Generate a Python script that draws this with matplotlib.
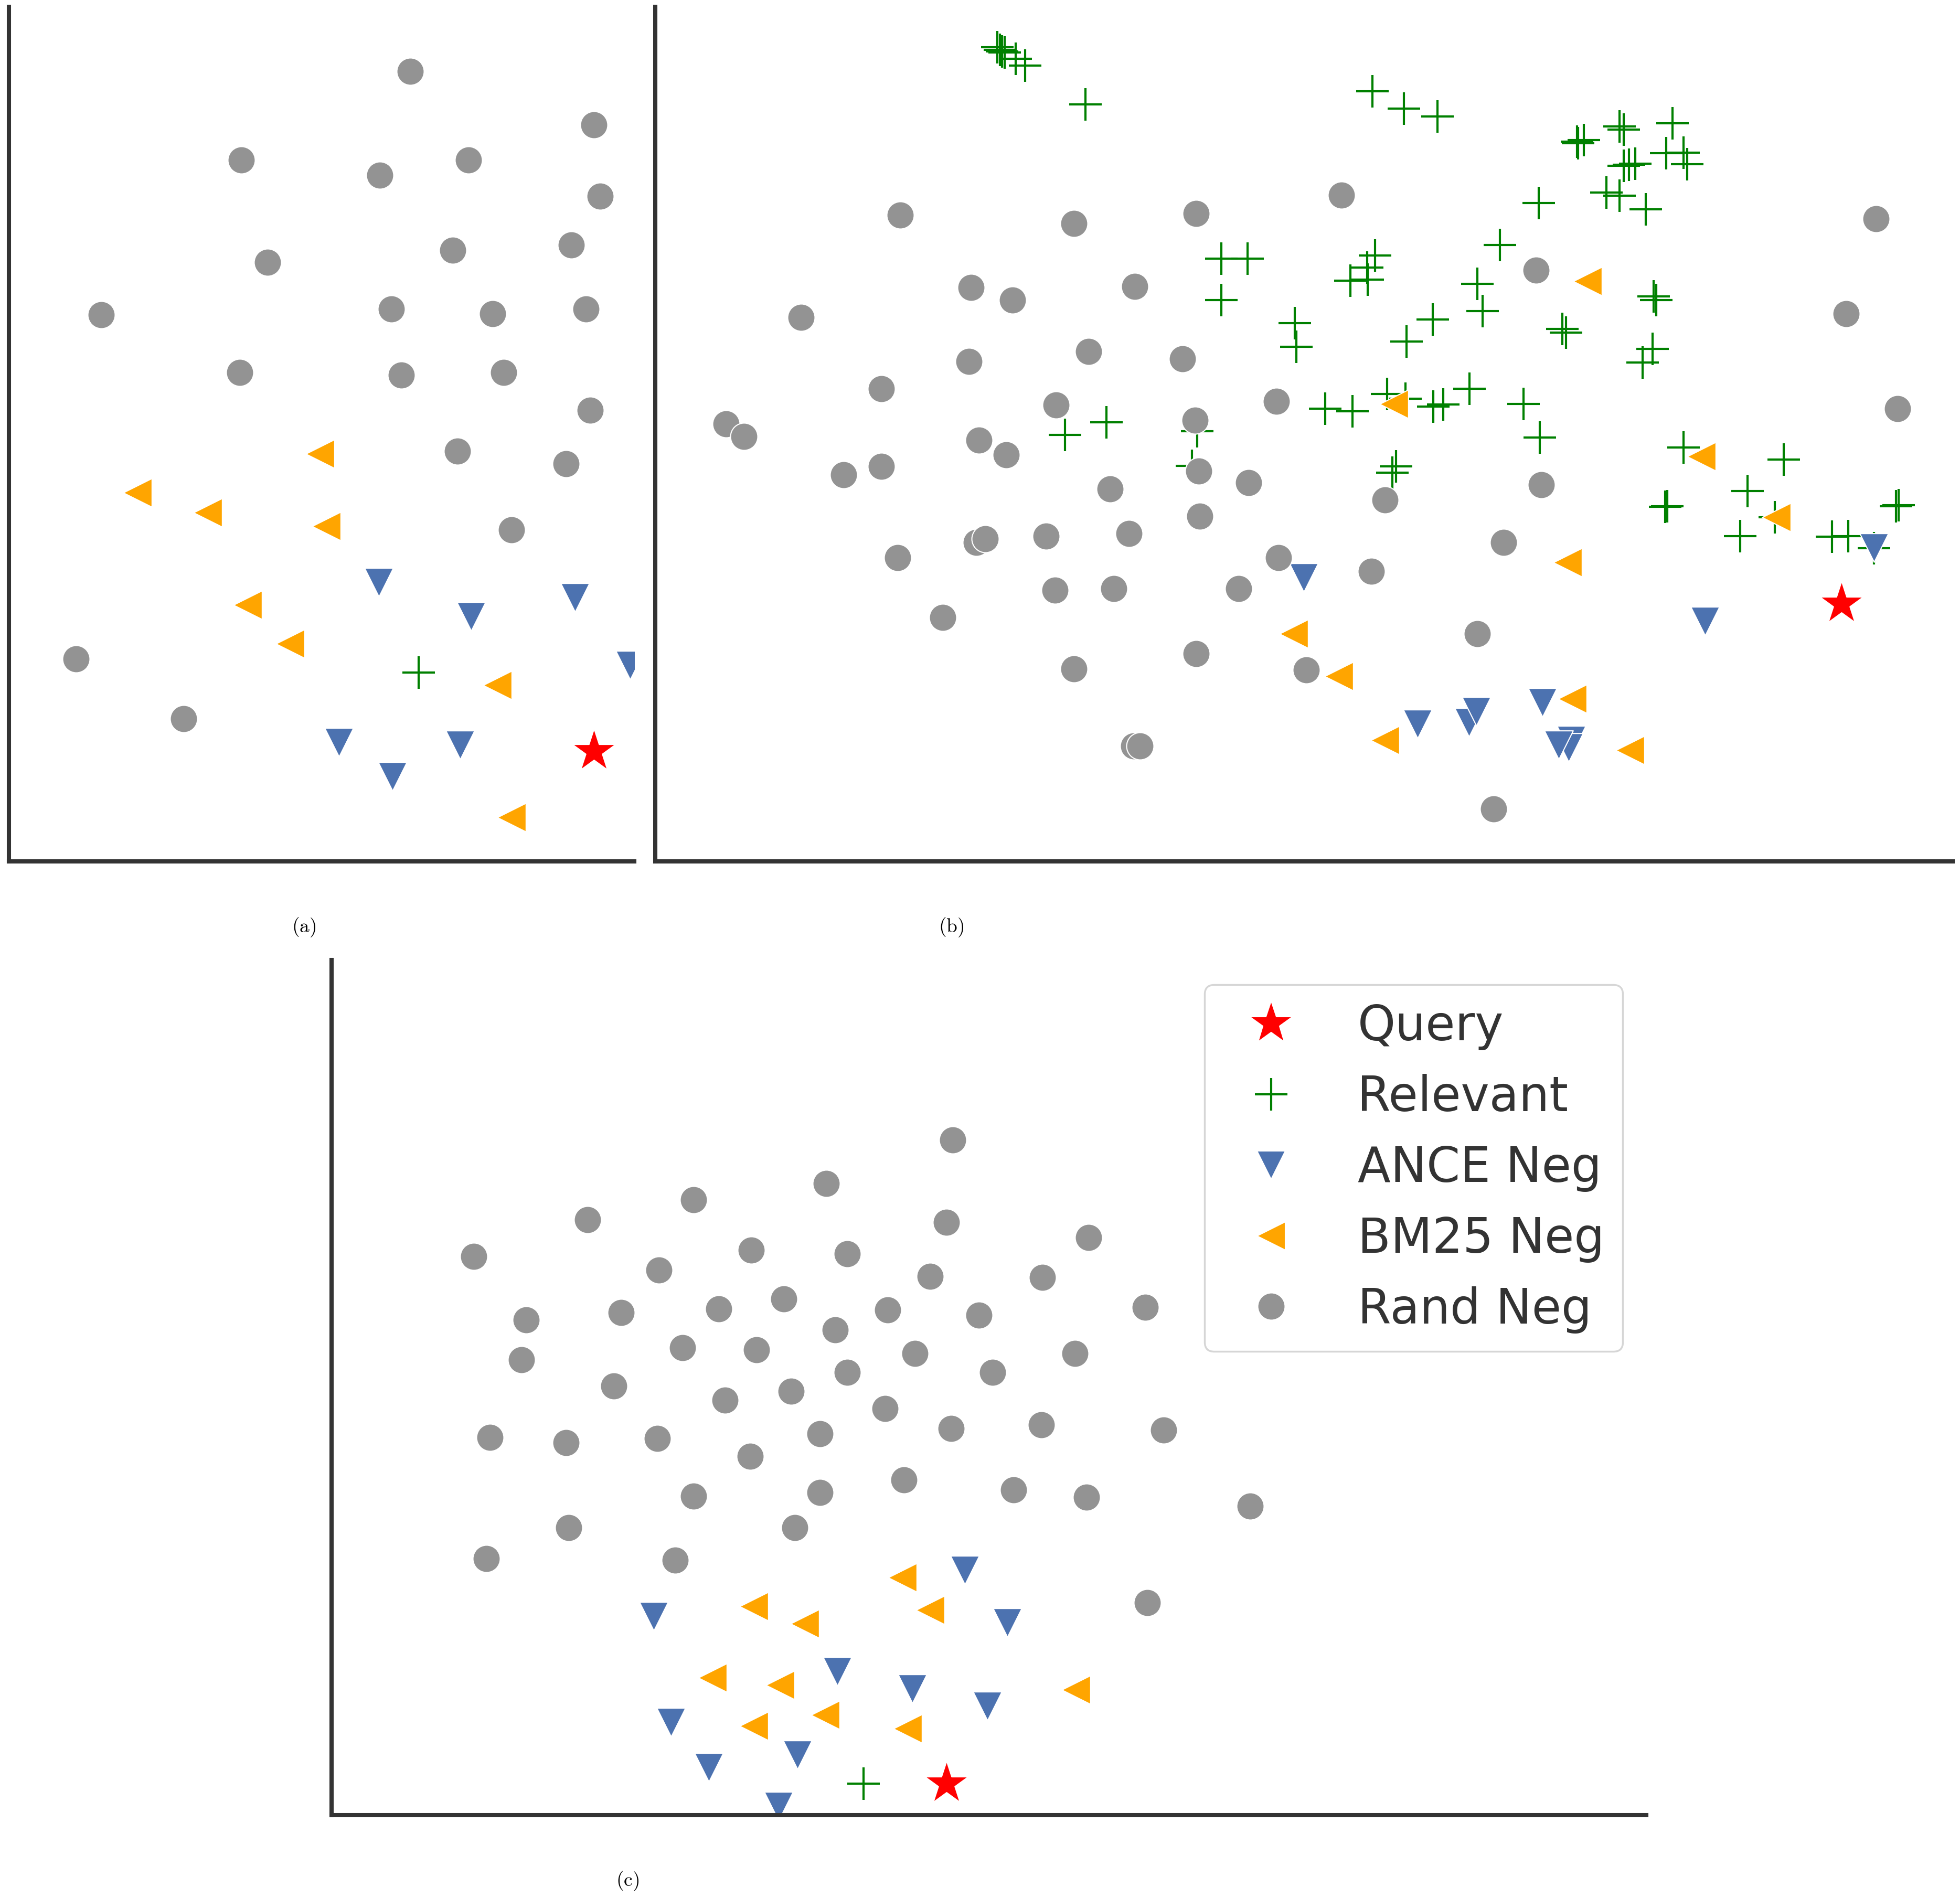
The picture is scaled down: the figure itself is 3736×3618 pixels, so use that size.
import matplotlib.pyplot as plt
from matplotlib.lines import Line2D

# Point positions (x right, y down, in picture units)

# panel (a)
a_rand_x = [328, 475, 193, 304, 375, 480, 214, 362, 457, 81, 313, 394, 469, 192, 321, 403, 472, 366, 453, 409, 61, 147]
a_rand_y = [57, 100, 128, 140, 128, 157, 210, 200, 196, 252, 247, 251, 247, 298, 300, 298, 328, 361, 371, 424, 527, 575]
a_bm25_x = [256, 110, 166, 261, 198, 232, 398, 409]
a_bm25_y = [363, 394, 410, 421, 484, 515, 548, 654]
a_ance_x = [303, 377, 460, 504, 271, 368, 314]
a_ance_y = [466, 493, 478, 532, 594, 596, 621]
a_rel_x = [335]
a_rel_y = [538]
a_query_x = [475]
a_query_y = [601]

# panel (b)
b_rand_x = [720, 859, 957, 1073, 1501, 777, 810, 908, 1229, 641, 1477, 775, 871, 946, 705, 845, 1021, 1518,
            581, 595, 956, 783, 805, 675, 705, 959, 999, 888, 1108, 1233, 960, 718, 781, 788, 837, 903,
            1023, 1097, 1203, 844, 891, 991, 754, 957, 859, 1182, 1045, 907, 912, 1195]
b_rand_y = [172, 179, 171, 156, 175, 230, 240, 229, 216, 254, 251, 289, 281, 287, 311, 324, 321, 327,
            339, 349, 336, 352, 364, 380, 373, 377, 386, 391, 400, 388, 413, 446, 434, 431, 429, 427,
            446, 457, 434, 472, 471, 471, 494, 523, 535, 507, 536, 597, 597, 647]
b_bm25_x = [1270, 1115, 1361, 1421, 1254, 1035, 1071, 1258, 1108, 1304]
b_bm25_y = [225, 323, 365, 414, 450, 507, 541, 559, 592, 600]
b_ance_x = [1043, 1364, 1499, 1134, 1175, 1181, 1234, 1257, 1255, 1247]
b_ance_y = [462, 497, 438, 579, 578, 569, 562, 592, 598, 596]
b_rel_x = [798, 800, 801.5, 803.6, 812.4, 820, 868.4,
           1098, 1123, 1150,
           1261.7, 1262.4, 1267, 1295.7, 1298.8, 1338, 1299, 1303.2, 1308.3, 1333, 1346.7, 1349.8,
           1285.2, 1295.7, 1316.5, 1230.8,
           1100.2, 1093.8, 1080.2, 1094.2, 1199.8, 1182, 1186.2, 1146.4, 1125.1, 1036, 1037,
           1060.3, 1082, 1109.5, 1124.4, 1146.6, 1154.8, 1175.4,
           977, 998, 977, 1250, 1253, 1323, 1325, 1322, 1314, 1219, 1232, 852, 885, 1117, 1114,
           957.6, 953.5,
           1346.7, 1427, 1398, 1332, 1334, 1392, 1419.7, 1465.4, 1478.5, 1499, 1517, 1519]
b_rel_y = [37.9, 39.9, 41.3, 42, 46.9, 52.5, 83.5,
           73, 87, 93,
           113.3, 114.7, 111.9, 101.1, 103.5, 98.6, 132.6, 131.6, 130.9, 122.7, 122.3, 131.4,
           153.9, 156.4, 167.4, 162.6,
           204.2, 214, 224.4, 223.7, 195.8, 227, 248.7, 255.4, 273.2, 258.4, 277.3,
           327, 329, 315.4, 318.9, 325.1, 323.4, 310.8,
           207, 207, 240, 263, 266, 237, 240, 279, 290, 323, 350, 348, 338, 373, 378,
           345, 372.6,
           358, 367.6, 393, 405.6, 405, 429, 414, 429.4, 429, 438.5, 405, 404]
b_query_x = [1473]
b_query_y = [483]

# panel (c)
c_rand_x = [762, 661, 470, 555, 757, 871, 379, 601, 678, 527, 744, 834, 421, 497, 575, 627, 710, 668, 783, 916,
            417, 546, 605, 732, 678, 860, 491, 633, 580, 794, 708, 392, 453, 526, 656, 761, 833, 931,
            600, 555, 656, 723, 811, 869, 1000, 455, 636, 389, 540, 918]
c_rand_y = [912, 947, 976, 960, 978, 990, 1005, 1000, 1003, 1016, 1021, 1022, 1056, 1050, 1047, 1039, 1048, 1064,
            1052, 1046, 1088, 1078, 1080, 1083, 1098, 1083, 1109, 1113, 1120, 1098, 1127, 1150, 1154, 1151,
            1147, 1143, 1140, 1144, 1165, 1197, 1194, 1184, 1192, 1198, 1205, 1222, 1222, 1247, 1248, 1282]
c_bm25_x = [722, 603, 644, 744, 570, 624, 861, 660, 603, 726]
c_bm25_y = [1262, 1285, 1299, 1288, 1342, 1348, 1352, 1372, 1381, 1383]
c_ance_x = [772, 523, 806, 670, 730, 790, 537, 567, 638, 623]
c_ance_y = [1256, 1293, 1298, 1337, 1351, 1365, 1378, 1414, 1404, 1445]
c_rel_x = [691]
c_rel_y = [1427]
c_query_x = [757]
c_query_y = [1427]

labels = ['Query', 'Relevant', 'ANCE Neg', 'BM25 Neg', 'Rand Neg']
colors = ['red', 'green', '#4c72b0', 'orange', '#939393']
markers = ['*', '+', 'v', '<', 'o']
sizes = [3900, 2050, 1550, 1550, 1400]

W, H = 3736, 3618
SCALE = W / 1568.0

plt.rcParams['mathtext.fontset'] = 'cm'
fig = plt.figure(figsize=(W / 100, H / 100), dpi=100)


def add_panel(left, right, top, bottom):
    ax = fig.add_axes([left / W, 1 - bottom / H, (right - left) / W, (bottom - top) / H])
    ax.set_xlim(left / SCALE, right / SCALE)
    ax.set_ylim(bottom / SCALE, top / SCALE)
    for side in ['top', 'right']:
        ax.spines[side].set_visible(False)
    for side in ['left', 'bottom']:
        ax.spines[side].set_linewidth(5.8)
        ax.spines[side].set_color('#333333')
    ax.set_xticks([])
    ax.set_yticks([])
    return ax


def draw(ax, groups):
    # order: relevant, ance, bm25, rand, query
    for i in [1, 2, 3, 4, 0]:
        xs, ys = groups[i]
        if markers[i] == '+':
            ax.scatter(xs, ys, s=sizes[i], marker='+', c=colors[i], linewidths=3.0)
        else:
            ax.scatter(xs, ys, s=sizes[i], marker=markers[i], c=colors[i],
                       edgecolors='white', linewidths=1.5)


ax_a = add_panel(17, 1209, 13, 1642)
draw(ax_a, [(a_query_x, a_query_y), (a_rel_x, a_rel_y), (a_ance_x, a_ance_y),
            (a_bm25_x, a_bm25_y), (a_rand_x, a_rand_y)])

ax_b = add_panel(1249, 3722, 13, 1642)
draw(ax_b, [(b_query_x, b_query_y), (b_rel_x, b_rel_y), (b_ance_x, b_ance_y),
            (b_bm25_x, b_bm25_y), (b_rand_x, b_rand_y)])

ax_c = add_panel(632, 3138, 1830, 3460)
draw(ax_c, [(c_query_x, c_query_y), (c_rel_x, c_rel_y), (c_ance_x, c_ance_y),
            (c_bm25_x, c_bm25_y), (c_rand_x, c_rand_y)])

handles = []
for lab, col, mk, sz in zip(labels, colors, markers, sizes):
    if mk == '+':
        h = Line2D([], [], linestyle='none', marker=mk, color=col, markersize=sz ** 0.5,
                   markeredgewidth=3.0, label=lab)
    else:
        h = Line2D([], [], linestyle='none', marker=mk, color=col, markersize=sz ** 0.5,
                   markeredgecolor='white', markeredgewidth=1.5, label=lab)
    handles.append(h)

leg = ax_c.legend(handles=handles, loc='upper left',
                  bbox_to_anchor=(2296 / W, 1 - 1877 / H), bbox_transform=fig.transFigure,
                  fontsize=66, frameon=True, fancybox=True, borderpad=0.38,
                  labelspacing=0.49, handletextpad=0.8, handlelength=2.0, borderaxespad=0)
leg.get_frame().set_edgecolor('#cccccc')
leg.get_frame().set_linewidth(2.5)
for t in leg.get_texts():
    t.set_color('#333333')

fig.text(579 / W, 1 - 1768 / H, r'$\mathrm{(a)}$', ha='center', va='center', fontsize=27)
fig.text(1813 / W, 1 - 1768 / H, r'$\mathrm{(b)}$', ha='center', va='center', fontsize=27)
fig.text(1196 / W, 1 - 3586 / H, r'$\mathrm{(c)}$', ha='center', va='center', fontsize=27)

fig.savefig('out.png', dpi=100)
